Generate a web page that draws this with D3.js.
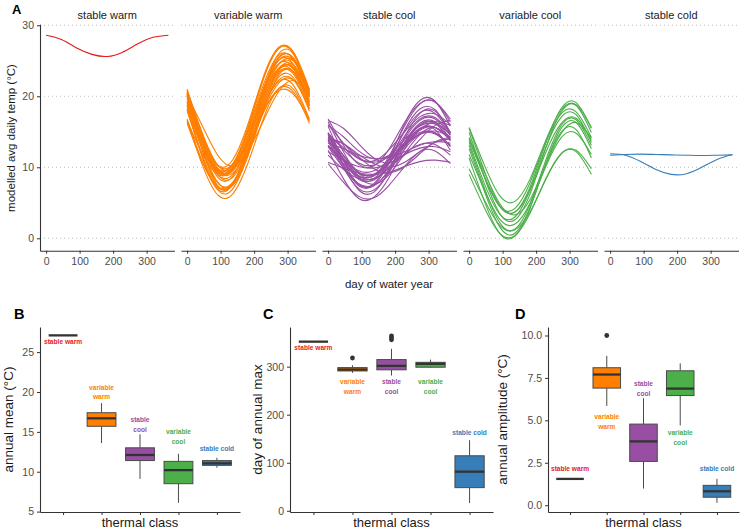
<!DOCTYPE html>
<html>
<head>
<meta charset="utf-8">
<script src="https://cdn.jsdelivr.net/npm/d3@7"></script>
<style>
  body { margin: 0; background: #fff; }
  svg { font-family: "Liberation Sans", Arial, sans-serif; }
</style>
</head>
<body>
<svg id="svg" width="740" height="529"></svg>
<script>
window.onload = function() {
  drawChart();
};

// ---- data ----
const classes = ['stable warm', 'variable warm', 'stable cool', 'variable cool', 'stable cold'];
const classColors = ['#E41A1C', '#FF7F00', '#984EA3', '#4DAF4A', '#377EB8'];
const classLabelLines = [['stable warm'], ['variable', 'warm'], ['stable', 'cool'], ['variable', 'cool'], ['stable cold']];

// days of water year at which each modelled curve was read
const sampleDays = [0, 45.6, 91.3, 136.9, 182.5, 228.1, 273.8, 319.4, 365];

const stableWarmCurves = [
  [28.6, 28.0, 26.8, 25.9, 25.6, 26.2, 27.4, 28.3, 28.6]
];

const variableWarmCurves = [
  [21.0, 14.4, 10.3, 11.1, 16.2, 22.8, 26.9, 26.1, 21.0],
  [20.6, 13.9, 9.7, 10.5, 15.8, 22.5, 26.7, 25.9, 20.6],
  [20.8, 14.6, 10.3, 10.5, 15.0, 21.2, 25.5, 25.3, 20.8],
  [20.0, 13.5, 9.4, 10.2, 15.3, 21.7, 25.8, 25.0, 20.0],
  [20.9, 14.8, 10.3, 9.9, 13.9, 20.0, 24.5, 24.9, 20.9],
  [20.3, 14.1, 9.7, 9.9, 14.5, 20.7, 25.1, 24.9, 20.3],
  [19.3, 13.5, 9.8, 10.5, 15.1, 20.9, 24.6, 23.9, 19.3],
  [20.0, 13.8, 9.6, 9.8, 14.2, 20.4, 24.6, 24.4, 20.0],
  [20.3, 14.4, 9.9, 9.5, 13.5, 19.4, 23.9, 24.3, 20.3],
  [19.6, 13.7, 9.6, 9.8, 14.0, 19.9, 24.0, 23.8, 19.6],
  [20.3, 12.6, 7.4, 7.6, 13.1, 20.8, 26.0, 25.8, 20.3],
  [18.7, 12.9, 9.3, 10.0, 14.5, 20.3, 23.9, 23.3, 18.7],
  [19.2, 13.5, 9.6, 9.7, 13.9, 19.5, 23.4, 23.3, 19.2],
  [19.9, 13.7, 9.0, 8.6, 12.8, 18.9, 23.6, 24.0, 19.9],
  [17.9, 11.7, 7.3, 7.5, 12.1, 18.3, 22.7, 22.5, 17.9],
  [16.8, 10.8, 7.1, 7.8, 12.5, 18.4, 22.1, 21.4, 16.8],
  [18.9, 12.3, 7.8, 7.9, 12.7, 19.3, 23.8, 23.7, 18.9],
  [18.7, 13.5, 9.5, 9.2, 12.7, 18.0, 21.9, 22.2, 18.7],
  [18.2, 12.7, 8.9, 9.0, 13.0, 18.5, 22.3, 22.2, 18.2],
  [19.1, 12.7, 7.9, 7.5, 11.7, 18.1, 23.0, 23.4, 19.1],
  [16.6, 11.9, 9.0, 9.6, 13.2, 17.9, 20.8, 20.2, 16.6],
  [16.5, 10.3, 6.1, 6.3, 10.7, 16.9, 21.1, 20.9, 16.5],
  [20.1, 15.8, 11.7, 10.2, 12.3, 16.6, 20.7, 22.2, 20.1],
  [20.2, 13.3, 8.6, 8.8, 13.8, 20.7, 25.4, 25.2, 20.2],
  [16.2, 10.7, 7.3, 7.9, 12.2, 17.7, 21.1, 20.5, 16.2],
  [20.5, 13.5, 9.2, 10.0, 15.5, 22.5, 26.8, 26.0, 20.5],
  [18.2, 11.4, 6.8, 7.0, 11.9, 18.6, 23.2, 23.0, 18.2],
  [18.6, 11.4, 6.9, 7.7, 13.4, 20.6, 25.1, 24.3, 18.6]
];

const stableCoolCurves = [
  [16.8, 13.1, 10.4, 10.2, 12.6, 16.3, 19.0, 19.2, 16.8],
  [16.4, 12.2, 9.1, 8.8, 11.6, 15.8, 18.9, 19.2, 16.4],
  [15.8, 10.9, 7.6, 7.7, 11.2, 16.1, 19.4, 19.3, 15.8],
  [14.8, 12.5, 10.6, 10.3, 11.7, 13.9, 15.8, 16.1, 14.8],
  [14.8, 11.6, 9.2, 9.0, 11.2, 14.4, 16.8, 17.0, 14.8],
  [14.3, 12.8, 11.2, 10.7, 11.5, 13.1, 14.6, 15.1, 14.3],
  [14.9, 10.4, 7.4, 7.5, 10.7, 15.2, 18.2, 18.1, 14.9],
  [14.6, 11.7, 9.3, 8.9, 10.6, 13.5, 15.9, 16.3, 14.6],
  [14.5, 11.0, 8.5, 8.2, 10.5, 14.0, 16.6, 16.8, 14.5],
  [13.4, 12.6, 11.7, 11.2, 11.4, 12.2, 13.1, 13.6, 13.4],
  [13.8, 11.2, 9.2, 9.0, 10.8, 13.4, 15.5, 15.6, 13.8],
  [14.8, 10.2, 6.8, 6.5, 9.6, 14.2, 17.6, 17.9, 14.8],
  [13.1, 11.0, 9.5, 9.5, 11.1, 13.2, 14.7, 14.7, 13.1],
  [13.9, 11.1, 8.8, 8.4, 10.1, 12.9, 15.2, 15.6, 13.9],
  [14.0, 13.3, 11.8, 10.5, 10.0, 10.7, 12.2, 13.5, 14.0],
  [14.0, 10.3, 7.6, 7.4, 9.8, 13.5, 16.2, 16.4, 14.0],
  [13.0, 10.5, 8.7, 8.8, 10.6, 13.1, 14.9, 14.8, 13.0],
  [14.2, 13.3, 11.5, 9.8, 9.2, 10.1, 11.9, 13.6, 14.2],
  [14.2, 11.3, 8.6, 7.6, 9.0, 11.9, 14.6, 15.6, 14.2],
  [13.7, 9.9, 7.0, 6.8, 9.3, 13.1, 16.0, 16.2, 13.7],
  [12.2, 11.0, 10.1, 9.9, 10.6, 11.8, 12.7, 12.9, 12.2],
  [12.9, 9.9, 7.7, 7.5, 9.5, 12.5, 14.7, 14.9, 12.9],
  [11.7, 9.7, 8.4, 8.4, 9.9, 11.9, 13.2, 13.2, 11.7],
  [12.4, 8.4, 5.6, 5.8, 8.6, 12.6, 15.4, 15.3, 12.4],
  [10.7, 9.9, 9.2, 9.0, 9.3, 10.1, 10.8, 11.0, 10.7],
  [10.5, 7.9, 5.9, 5.7, 7.5, 10.1, 12.2, 12.3, 10.5],
  [16.6, 15.5, 13.3, 11.3, 10.6, 11.7, 13.9, 15.9, 16.6],
  [15.9, 14.3, 12.3, 11.2, 11.7, 13.4, 15.3, 16.4, 15.9],
  [16.0, 13.4, 11.3, 10.9, 12.5, 15.0, 17.1, 17.5, 16.0],
  [14.8, 11.0, 8.3, 8.4, 11.2, 15.0, 17.7, 17.6, 14.8]
];

const variableCoolCurves = [
  [15.6, 10.3, 6.0, 5.2, 8.4, 13.7, 18.0, 18.8, 15.6],
  [15.5, 9.5, 4.6, 3.7, 7.3, 13.3, 18.2, 19.1, 15.5],
  [14.2, 8.7, 4.5, 4.2, 7.9, 13.4, 17.5, 17.8, 14.2],
  [14.9, 8.6, 3.5, 2.6, 6.3, 12.6, 17.7, 18.7, 14.9],
  [13.8, 8.7, 4.5, 3.7, 6.8, 12.0, 16.1, 16.9, 13.8],
  [13.5, 7.7, 3.4, 3.0, 6.9, 12.7, 17.0, 17.4, 13.5],
  [14.1, 9.3, 4.9, 3.3, 5.5, 10.3, 14.7, 16.3, 14.1],
  [13.1, 7.1, 2.2, 1.3, 4.9, 10.9, 15.8, 16.7, 13.1],
  [12.6, 6.6, 1.6, 0.7, 4.4, 10.4, 15.4, 16.3, 12.6],
  [11.8, 6.8, 2.7, 2.0, 5.0, 10.0, 14.1, 14.8, 11.8],
  [11.3, 5.2, 0.7, 0.3, 4.3, 10.4, 14.9, 15.3, 11.3],
  [9.0, 4.3, 0.7, 0.4, 3.6, 8.3, 11.9, 12.2, 9.0],
  [9.8, 5.4, 1.8, 1.2, 3.8, 8.2, 11.8, 12.4, 9.8]
];

const stableColdCurves = [
  [11.9, 11.7, 10.8, 9.7, 9.0, 9.1, 10.0, 11.1, 11.8],
  [11.7, 11.8, 11.85, 11.8, 11.75, 11.7, 11.65, 11.7, 11.75]
];

const topXTicks = [0, 100, 200, 300];
const topYTicks = [0, 10, 20, 30];

// boxplot stats: [lower whisker, q1, median, q3, upper whisker]
const annualMeanStats = [
  [27.1, 27.1, 27.1, 27.1, 27.1],
  [13.6, 15.7, 16.7, 17.4, 18.6],
  [9.1, 11.4, 12.1, 13.0, 14.7],
  [6.1, 8.5, 10.2, 11.3, 12.25],
  [10.5, 10.8, 11.05, 11.4, 11.75]
];
const annualMeanOutliers = [[], [], [], [], []];
const annualMeanLabelY = [26.25, 20.6, 16.5, 15.0, 12.95];

const dayOfMaxStats = [
  [352, 352, 352, 352, 352],
  [287, 291, 294, 298, 303],
  [281.6, 293.4, 301.6, 314.7, 337],
  [297.5, 298.8, 305.8, 309, 314.7],
  [16, 48.2, 81.4, 114.5, 147]
];
const dayOfMaxOutliers = [[], [318], [356, 360, 364], [], []];
const dayOfMaxLabelY = [339, 269, 269, 269, 163];

const amplitudeStats = [
  [1.55, 1.55, 1.55, 1.55, 1.55],
  [5.85, 6.9, 7.7, 8.1, 8.8],
  [0.98, 2.58, 3.76, 4.78, 6.3],
  [4.7, 6.46, 6.87, 7.92, 8.36],
  [0.14, 0.47, 0.82, 1.17, 1.55]
];
const amplitudeOutliers = [[], [10.0], [], [], []];
const amplitudeLabelY = [2.17, 5.22, 7.14, 4.25, 2.17];

// ---- drawing ----
const drawChart = function() {
  const svg = d3.select('#svg');
  drawTop(svg);
  drawBoxPanel(svg, {
    left: 40, right: 240, domain: [4.95, 28.15], ticks: [5, 10, 15, 20, 25],
    format: d3.format('d'), stats: annualMeanStats, outliers: annualMeanOutliers,
    labelY: annualMeanLabelY, letter: 'B', letterX: 14, title: 'annual mean (°C)', titleX: 13
  });
  drawBoxPanel(svg, {
    left: 290, right: 493, domain: [-2.5, 382.5], ticks: [0, 100, 200, 300],
    format: d3.format('d'), stats: dayOfMaxStats, outliers: dayOfMaxOutliers,
    labelY: dayOfMaxLabelY, letter: 'C', letterX: 263, title: 'day of annual max', titleX: 262
  });
  drawBoxPanel(svg, {
    left: 548, right: 739, domain: [-0.4, 10.5], ticks: [0, 2.5, 5, 7.5, 10],
    format: d3.format('.1f'), stats: amplitudeStats, outliers: amplitudeOutliers,
    labelY: amplitudeLabelY, letter: 'D', letterX: 515, title: 'annual amplitude (°C)', titleX: 507
  });
};

const styleAxis = function(g, size) {
  g.select('.domain').style('stroke', '#333').style('stroke-width', 1.1);
  g.selectAll('.tick line').style('stroke', '#333').style('stroke-width', 1);
  g.selectAll('.tick text')
    .style('fill', '#4d4d4d')
    .style('font-size', size + 'px')
    .style('font-family', '"Liberation Sans", Arial, sans-serif');
};

const drawTop = function(svg) {
  const series = [stableWarmCurves, variableWarmCurves, stableCoolCurves, variableCoolCurves, stableColdCurves];
  const panelW = 134.5;
  const gap = 6.5;
  const yScale = d3.scaleLinear().domain([-1.75, 30.15]).range([250.7, 24.2]);

  series.forEach((curves, i) => {
    const left = 40 + i * (panelW + gap);
    const xScale = d3.scaleLinear().domain([-18.25, 383.25]).range([left, left + panelW]);
    const g = svg.append('g').classed('facet', true);

    g.selectAll('line.grid')
      .data(topYTicks)
      .enter()
      .append('line')
      .attr('x1', left)
      .attr('x2', left + panelW)
      .attr('y1', d => yScale(d))
      .attr('y2', d => yScale(d))
      .style('stroke', '#bdbdbd')
      .style('stroke-width', 1)
      .style('stroke-dasharray', '1,3');

    const lineBuilder = d3
      .line()
      .x((d, j) => xScale(sampleDays[j]))
      .y(d => yScale(d))
      .curve(d3.curveNatural);

    g.selectAll('path.curve')
      .data(curves)
      .enter()
      .append('path')
      .attr('d', lineBuilder)
      .style('fill', 'none')
      .style('stroke', classColors[i])
      .style('stroke-width', 1.1);

    const xAxis = g
      .append('g')
      .attr('transform', 'translate(0,250.7)')
      .call(d3.axisBottom(xScale).tickValues(topXTicks).tickSize(3).tickSizeOuter(0).tickPadding(4));
    styleAxis(xAxis, 10.5);

    if (i === 0) {
      const yAxis = g
        .append('g')
        .attr('transform', 'translate(' + left + ',0)')
        .call(d3.axisLeft(yScale).tickValues(topYTicks).tickSize(3).tickSizeOuter(0).tickPadding(3));
      styleAxis(yAxis, 10.5);
    }

    svg.append('text')
      .attr('x', left + panelW / 2)
      .attr('y', 19)
      .attr('text-anchor', 'middle')
      .style('font-size', '11px')
      .style('fill', '#1a1a1a')
      .text(classes[i]);
  });

  svg.append('text')
    .attr('x', 389)
    .attr('y', 288)
    .attr('text-anchor', 'middle')
    .style('font-size', '11.5px')
    .style('fill', '#1a1a1a')
    .text('day of water year');

  svg.append('text')
    .attr('transform', 'translate(15,138) rotate(-90)')
    .attr('text-anchor', 'middle')
    .style('font-size', '11.5px')
    .style('fill', '#1a1a1a')
    .text('modelled avg daily temp (°C)');

  svg.append('text')
    .attr('x', 12)
    .attr('y', 14)
    .style('font-size', '13px')
    .style('font-weight', 'bold')
    .text('A');
};

const drawBoxPanel = function(svg, cfg) {
  const { left, right, domain, ticks, format, stats, outliers, labelY } = cfg;
  const xScale = d3.scalePoint().domain(classes).range([left, right]).padding(0.6);
  const yScale = d3.scaleLinear().domain(domain).range([512, 327]);
  const bw = xScale.step() * 0.75;
  const g = svg.append('g').classed('box-panel', true);

  const boxes = g
    .selectAll('g.box')
    .data(stats)
    .enter()
    .append('g')
    .classed('box', true);

  boxes.append('line')
    .attr('x1', (d, i) => xScale(classes[i]))
    .attr('x2', (d, i) => xScale(classes[i]))
    .attr('y1', d => yScale(d[4]))
    .attr('y2', d => yScale(d[3]))
    .style('stroke', '#4a4a4a')
    .style('stroke-width', 1);
  boxes.append('line')
    .attr('x1', (d, i) => xScale(classes[i]))
    .attr('x2', (d, i) => xScale(classes[i]))
    .attr('y1', d => yScale(d[1]))
    .attr('y2', d => yScale(d[0]))
    .style('stroke', '#4a4a4a')
    .style('stroke-width', 1);
  boxes.append('rect')
    .attr('x', (d, i) => xScale(classes[i]) - bw / 2)
    .attr('y', d => yScale(d[3]))
    .attr('width', bw)
    .attr('height', d => yScale(d[1]) - yScale(d[3]))
    .style('fill', (d, i) => classColors[i])
    .style('stroke', '#4a4a4a')
    .style('stroke-width', 1);
  boxes.append('line')
    .attr('x1', (d, i) => xScale(classes[i]) - bw / 2)
    .attr('x2', (d, i) => xScale(classes[i]) + bw / 2)
    .attr('y1', d => yScale(d[2]))
    .attr('y2', d => yScale(d[2]))
    .style('stroke', '#333')
    .style('stroke-width', 2.3);

  outliers.forEach((pts, i) => {
    g.selectAll(null)
      .data(pts)
      .enter()
      .append('circle')
      .attr('cx', xScale(classes[i]))
      .attr('cy', d => yScale(d))
      .attr('r', 2.4)
      .style('fill', '#333');
  });

  classLabelLines.forEach((lines, i) => {
    g.append('text')
      .attr('text-anchor', 'middle')
      .style('font-size', '6.6px')
      .style('font-weight', 'bold')
      .style('fill', classColors[i])
      .selectAll('tspan')
      .data(lines)
      .enter()
      .append('tspan')
      .attr('x', xScale(classes[i]))
      .attr('y', (d, j) => yScale(labelY[i]) + j * 9.7)
      .attr('dy', '0.35em')
      .text(d => d);
  });

  const yAxis = g
    .append('g')
    .attr('transform', 'translate(' + left + ',0)')
    .call(d3.axisLeft(yScale).tickValues(ticks).tickFormat(format).tickSize(3).tickSizeOuter(0).tickPadding(3));
  styleAxis(yAxis, 10.5);

  const xAxis = g
    .append('g')
    .attr('transform', 'translate(0,512)')
    .call(d3.axisBottom(xScale).tickFormat('').tickSize(3).tickSizeOuter(0));
  styleAxis(xAxis, 10.5);

  svg.append('text')
    .attr('x', (left + right) / 2)
    .attr('y', 527)
    .attr('text-anchor', 'middle')
    .style('font-size', '13px')
    .style('fill', '#1a1a1a')
    .text('thermal class');

  svg.append('text')
    .attr('transform', 'translate(' + cfg.titleX + ',419.5) rotate(-90)')
    .attr('text-anchor', 'middle')
    .style('font-size', '13.5px')
    .style('fill', '#1a1a1a')
    .text(cfg.title);

  svg.append('text')
    .attr('x', cfg.letterX)
    .attr('y', 318.5)
    .style('font-size', '14.5px')
    .style('font-weight', 'bold')
    .text(cfg.letter);
};
</script>
</body>
</html>
